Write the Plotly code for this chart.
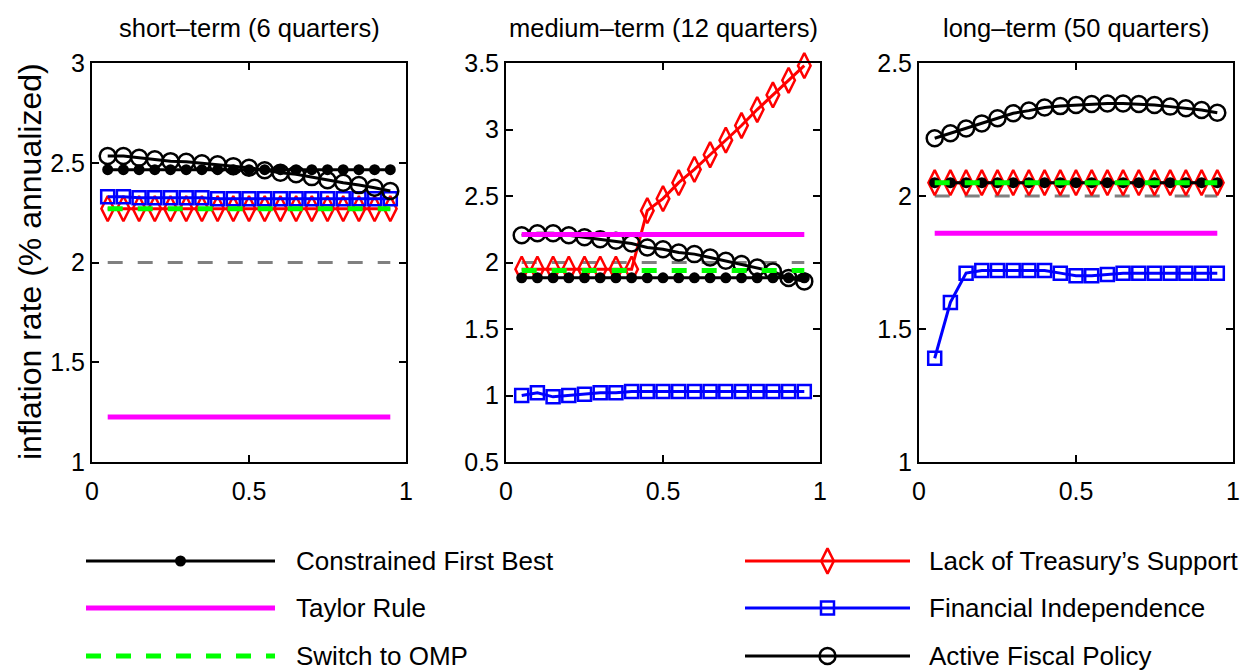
import plotly.graph_objects as go

W, H = 1243, 670

x = [0.05, 0.10, 0.15, 0.20, 0.25, 0.30, 0.35, 0.40, 0.45, 0.50,
     0.55, 0.60, 0.65, 0.70, 0.75, 0.80, 0.85, 0.90, 0.95]

panel_titles = ["short\u2013term (6 quarters)", "medium\u2013term (12 quarters)", "long\u2013term (50 quarters)"]
series_names = ["Constrained First Best", "Taylor Rule", "Switch to OMP",
                "Lack of Treasury\u2019s Support", "Financial Independence", "Active Fiscal Policy"]
y_title = "inflation rate (% annualized)"

# ---- short-term (6 quarters)
st_target = [2.0, 2.0, 2.0, 2.0, 2.0, 2.0, 2.0, 2.0, 2.0, 2.0, 2.0, 2.0, 2.0, 2.0, 2.0, 2.0, 2.0, 2.0, 2.0]
st_cfb = [2.465, 2.465, 2.465, 2.465, 2.465, 2.465, 2.465, 2.465, 2.465, 2.465,
          2.465, 2.465, 2.465, 2.465, 2.465, 2.465, 2.465, 2.465, 2.465]
st_taylor = [1.225, 1.225, 1.225, 1.225, 1.225, 1.225, 1.225, 1.225, 1.225, 1.225,
             1.225, 1.225, 1.225, 1.225, 1.225, 1.225, 1.225, 1.225, 1.225]
st_omp = [2.27, 2.27, 2.27, 2.27, 2.27, 2.27, 2.27, 2.27, 2.27, 2.27,
          2.27, 2.27, 2.27, 2.27, 2.27, 2.27, 2.27, 2.27, 2.27]
st_lack = [2.27, 2.27, 2.27, 2.27, 2.27, 2.27, 2.27, 2.27, 2.27, 2.27,
           2.27, 2.27, 2.27, 2.27, 2.27, 2.27, 2.27, 2.27, 2.27]
st_fin = [2.33, 2.33, 2.325, 2.325, 2.325, 2.325, 2.325, 2.32, 2.32, 2.32,
          2.32, 2.32, 2.32, 2.32, 2.32, 2.32, 2.32, 2.32, 2.32]
st_afp = [2.534, 2.534, 2.525, 2.517, 2.508, 2.505, 2.497, 2.492, 2.483, 2.475,
          2.462, 2.45, 2.442, 2.428, 2.412, 2.40, 2.388, 2.375, 2.358]

# ---- medium-term (12 quarters)
mt_target = [2.0, 2.0, 2.0, 2.0, 2.0, 2.0, 2.0, 2.0, 2.0, 2.0, 2.0, 2.0, 2.0, 2.0, 2.0, 2.0, 2.0, 2.0, 2.0]
mt_cfb = [1.885, 1.885, 1.885, 1.885, 1.885, 1.885, 1.885, 1.885, 1.885, 1.885,
          1.885, 1.885, 1.885, 1.885, 1.885, 1.885, 1.885, 1.885, 1.885]
mt_taylor = [2.21, 2.21, 2.21, 2.21, 2.21, 2.21, 2.21, 2.21, 2.21, 2.21,
             2.21, 2.21, 2.21, 2.21, 2.21, 2.21, 2.21, 2.21, 2.21]
mt_omp = [1.94, 1.94, 1.94, 1.94, 1.94, 1.94, 1.94, 1.94, 1.94, 1.94,
          1.94, 1.94, 1.94, 1.94, 1.94, 1.94, 1.94, 1.94, 1.94]
mt_lack = [1.95, 1.95, 1.95, 1.95, 1.95, 1.95, 1.95, 1.95, 2.39, 2.48,
           2.60, 2.70, 2.81, 2.92, 3.03, 3.15, 3.26, 3.37, 3.48]
mt_fin = [1.0, 1.02, 0.99, 1.0, 1.01, 1.02, 1.02, 1.03, 1.03, 1.03,
          1.03, 1.03, 1.03, 1.03, 1.03, 1.03, 1.03, 1.03, 1.03]
mt_afp = [2.205, 2.22, 2.22, 2.205, 2.19, 2.175, 2.163, 2.143, 2.113, 2.10,
          2.075, 2.063, 2.038, 2.013, 1.988, 1.963, 1.933, 1.883, 1.858]

# ---- long-term (50 quarters)
lt_target = [2.0, 2.0, 2.0, 2.0, 2.0, 2.0, 2.0, 2.0, 2.0, 2.0, 2.0, 2.0, 2.0, 2.0, 2.0, 2.0, 2.0, 2.0, 2.0]
lt_cfb = [2.05, 2.05, 2.05, 2.05, 2.05, 2.05, 2.05, 2.05, 2.05, 2.05,
          2.05, 2.05, 2.05, 2.05, 2.05, 2.05, 2.05, 2.05, 2.05]
lt_taylor = [1.86, 1.86, 1.86, 1.86, 1.86, 1.86, 1.86, 1.86, 1.86, 1.86,
             1.86, 1.86, 1.86, 1.86, 1.86, 1.86, 1.86, 1.86, 1.86]
lt_omp = [2.05, 2.05, 2.05, 2.05, 2.05, 2.05, 2.05, 2.05, 2.05, 2.05,
          2.05, 2.05, 2.05, 2.05, 2.05, 2.05, 2.05, 2.05, 2.05]
lt_lack = [2.05, 2.05, 2.05, 2.05, 2.05, 2.05, 2.05, 2.05, 2.05, 2.05,
           2.05, 2.05, 2.05, 2.05, 2.05, 2.05, 2.05, 2.05, 2.05]
lt_fin = [1.39, 1.60, 1.71, 1.72, 1.72, 1.72, 1.72, 1.72, 1.71, 1.70,
          1.70, 1.705, 1.71, 1.71, 1.71, 1.71, 1.71, 1.71, 1.71]
lt_afp = [2.217, 2.236, 2.254, 2.273, 2.292, 2.311, 2.321, 2.333, 2.338, 2.342,
          2.346, 2.348, 2.348, 2.346, 2.342, 2.336, 2.33, 2.323, 2.313]

y_ranges = [[1, 3], [0.5, 3.5], [1, 2.5]]
y_ticks = [[1, 1.5, 2, 2.5, 3], [0.5, 1, 1.5, 2, 2.5, 3, 3.5], [1, 1.5, 2, 2.5]]
x_ticks = [0, 0.5, 1]

panels = [
    (st_target, st_cfb, st_taylor, st_omp, st_lack, st_fin, st_afp),
    (mt_target, mt_cfb, mt_taylor, mt_omp, mt_lack, mt_fin, mt_afp),
    (lt_target, lt_cfb, lt_taylor, lt_omp, lt_lack, lt_fin, lt_afp),
]

FONT = "Liberation Sans, Arial, sans-serif"

sty = {
    "target": dict(mode="lines", line=dict(color="#808080", width=3, dash="15px,15px")),
    "cfb": dict(mode="lines+markers", line=dict(color="black", width=3),
                marker=dict(symbol="circle", size=11, color="black")),
    "taylor": dict(mode="lines", line=dict(color="#ff00ff", width=5)),
    "omp": dict(mode="lines", line=dict(color="#00ff00", width=5, dash="15px,15px")),
    "lack": dict(mode="lines+markers", line=dict(color="red", width=3),
                 marker=dict(symbol="diamond-tall-open", size=18, color="red", line=dict(width=2.5, color="red"))),
    "fin": dict(mode="lines+markers", line=dict(color="blue", width=3),
                marker=dict(symbol="square-open", size=13, color="blue", line=dict(width=2.5, color="blue"))),
    "afp": dict(mode="lines+markers", line=dict(color="black", width=3),
                marker=dict(symbol="circle-open", size=16, color="black", line=dict(width=2.5, color="black"))),
}

fig = go.Figure()

x_dom = [[92 / W, 406 / W], [506 / W, 820 / W], [919 / W, 1233 / W]]
y_dom = [1 - 462 / H, 1 - 63 / H]

draw_order = ["target", "lack", "fin", "afp", "cfb", "taylor", "omp"]
key_index = {"target": 0, "cfb": 1, "taylor": 2, "omp": 3, "lack": 4, "fin": 5, "afp": 6}

layout_axes = {}
for p, data in enumerate(panels):
    xa = "x" if p == 0 else f"x{p+1}"
    ya = "y" if p == 0 else f"y{p+1}"
    suffix = "" if p == 0 else str(p + 1)
    for key in draw_order:
        fig.add_trace(go.Scatter(x=x, y=data[key_index[key]], xaxis=xa, yaxis=ya,
                                 showlegend=False, hoverinfo="skip", cliponaxis=False, **sty[key]))
    axis_common = dict(showline=True, linecolor="black", linewidth=2, mirror="ticks",
                       ticks="inside", ticklen=7, tickwidth=1.5, tickcolor="black",
                       showgrid=False, zeroline=False, automargin=False,
                       tickfont=dict(family=FONT, size=25, color="black"))
    layout_axes["xaxis" + suffix] = dict(domain=x_dom[p], range=[0, 1], tickvals=x_ticks,
                                         ticktext=["0", "0.5", "1"], anchor=ya,
                                         ticklabelstandoff=6, **axis_common)
    layout_axes["yaxis" + suffix] = dict(domain=y_dom, range=y_ranges[p], tickvals=y_ticks[p],
                                         ticktext=[("%g" % v) for v in y_ticks[p]], anchor=xa,
                                         **axis_common)
    fig.add_annotation(text=panel_titles[p], xref="paper", yref="paper",
                       x=(x_dom[p][0] + x_dom[p][1]) / 2, y=1 - 28 / H,
                       xanchor="center", yanchor="middle", showarrow=False,
                       font=dict(family=FONT, size=25.5, color="black"))

fig.add_annotation(text=y_title, xref="paper", yref="paper", x=30 / W, y=1 - 262 / H,
                   textangle=-90, xanchor="center", yanchor="middle", showarrow=False,
                   font=dict(family=FONT, size=32, color="black"))

# ---- legend drawn on an invisible pixel-space axis in the bottom band
LEG_TOP = 520
layout_axes["xaxis4"] = dict(domain=[0, 1], range=[0, W], visible=False, fixedrange=True,
                             anchor="y4", automargin=False)
layout_axes["yaxis4"] = dict(domain=[0, (H - LEG_TOP) / H], range=[H, LEG_TOP], visible=False,
                             fixedrange=True, anchor="x4", automargin=False)

leg_keys = ["cfb", "taylor", "omp", "lack", "fin", "afp"]
leg_rows = [561, 608, 656]
for i, key in enumerate(leg_keys):
    col = i // 3
    row = i % 3
    x0, x1 = (86, 275) if col == 0 else (745, 910)
    tx = 294 if col == 0 else 927
    yy = leg_rows[row]
    s = sty[key]
    fig.add_trace(go.Scatter(x=[x0, x1], y=[yy, yy], xaxis="x4", yaxis="y4", mode="lines",
                             line=s["line"], showlegend=False, hoverinfo="skip", cliponaxis=False))
    if "marker" in s:
        fig.add_trace(go.Scatter(x=[(x0 + x1) / 2], y=[yy], xaxis="x4", yaxis="y4", mode="markers",
                                 marker=s["marker"], showlegend=False, hoverinfo="skip",
                                 cliponaxis=False))
    fig.add_annotation(text=series_names[i], xref="paper", yref="paper", x=tx / W, y=1 - yy / H,
                       xanchor="left", yanchor="middle", showarrow=False,
                       font=dict(family=FONT, size=26, color="black"))

fig.update_layout(width=W, height=H, autosize=False,
                  margin=dict(l=0, r=0, t=0, b=0, pad=0, autoexpand=False),
                  paper_bgcolor="white", plot_bgcolor="rgba(0,0,0,0)", showlegend=False,
                  **layout_axes)

fig.write_html("out.html")
